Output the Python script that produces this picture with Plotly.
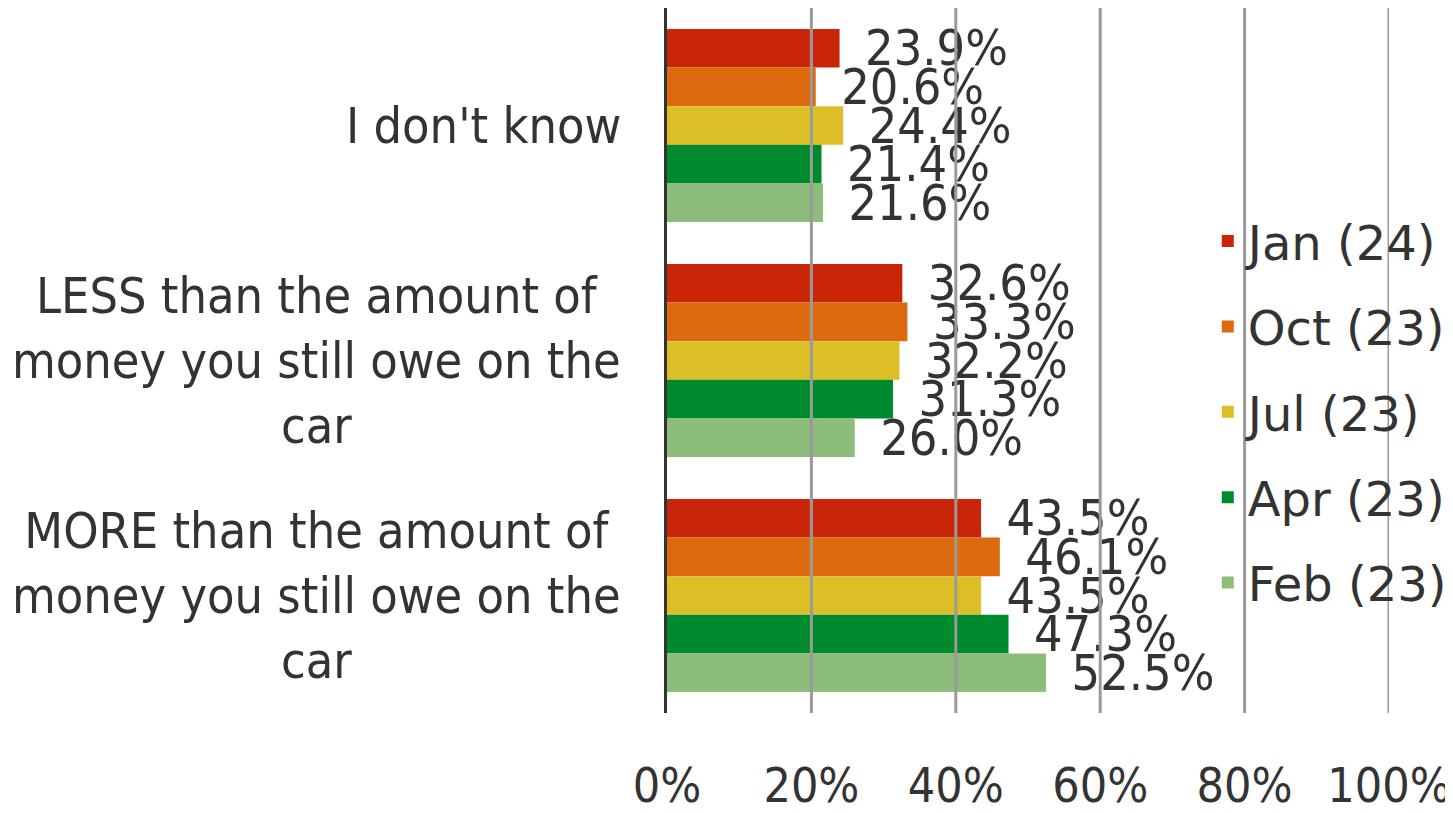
import plotly.graph_objects as go

categories = ["I don't know",
              "LESS than the amount of<br>money you still owe on the<br>car",
              "MORE than the amount of<br>money you still owe on the<br>car"]
series_names = ["Jan (24)", "Oct (23)", "Jul (23)", "Apr (23)", "Feb (23)"]
jan = [23.9, 32.6, 43.5]
oct_ = [20.6, 33.3, 46.1]
jul = [24.4, 32.2, 43.5]
apr = [21.4, 31.3, 47.3]
feb = [21.6, 26.0, 52.5]
series_values = [jan, oct_, jul, apr, feb]
colors = ["#C92508", "#DE6A10", "#DCBE27", "#008A2E", "#8CBD7A"]
tick_values = [0, 20, 40, 60, 80, 100]
tick_labels = ["0%", "20%", "40%", "60%", "80%", "100%"]

COND = "DejaVu Sans Condensed, DejaVu Sans, sans-serif"
TXT = "#333333"

fig = go.Figure()
for name, vals, col in zip(series_names, series_values, colors):
    fig.add_trace(go.Bar(
        y=categories, x=vals, name=name, orientation="h",
        marker=dict(color=col, line=dict(width=0)),
        texttemplate="\u2002%{x:.1f}%", textposition="outside",
        textfont=dict(family=COND, size=50, color=TXT),
        constraintext="none", cliponaxis=False,
        legendgroup=name,
    ))

shapes = []
for t in tick_values[1:]:
    shapes.append(dict(type="line", xref="x", yref="paper", x0=t, x1=t, y0=0, y1=1,
                       line=dict(color="#9a9a9a", width=3), layer="above"))

annotations = []
for c in categories:
    annotations.append(dict(xref="paper", yref="y", x=0, y=c, xshift=-44,
                            xanchor="right", yanchor="middle", align="center",
                            text=c, showarrow=False,
                            font=dict(family=COND, size=50, color=TXT)))

fig.update_layout(
    width=1445, height=805,
    margin=dict(l=659, r=64, t=0, b=98),
    paper_bgcolor="white", plot_bgcolor="white",
    barmode="group", bargap=0.178, bargroupgap=0,
    showlegend=True,
    legend=dict(x=0.749, xanchor="left", y=0.723, yanchor="top",
                bgcolor="rgba(0,0,0,0)", tracegroupgap=20,
                font=dict(family="DejaVu Sans, sans-serif", size=48, color=TXT),
                traceorder="grouped"),
    xaxis=dict(range=[0, 100], tickmode="array", tickvals=tick_values,
               ticktext=tick_labels,
               showgrid=False, zeroline=False, showline=False, ticks="",
               ticklabelstandoff=40,
               tickfont=dict(family=COND, size=48, color=TXT)),
    yaxis=dict(autorange="reversed", showticklabels=False, showgrid=False,
               showline=True, linecolor="#333333", linewidth=3, ticks="",
               zeroline=False),
    shapes=shapes, annotations=annotations,
)

fig.write_html("out.html")
